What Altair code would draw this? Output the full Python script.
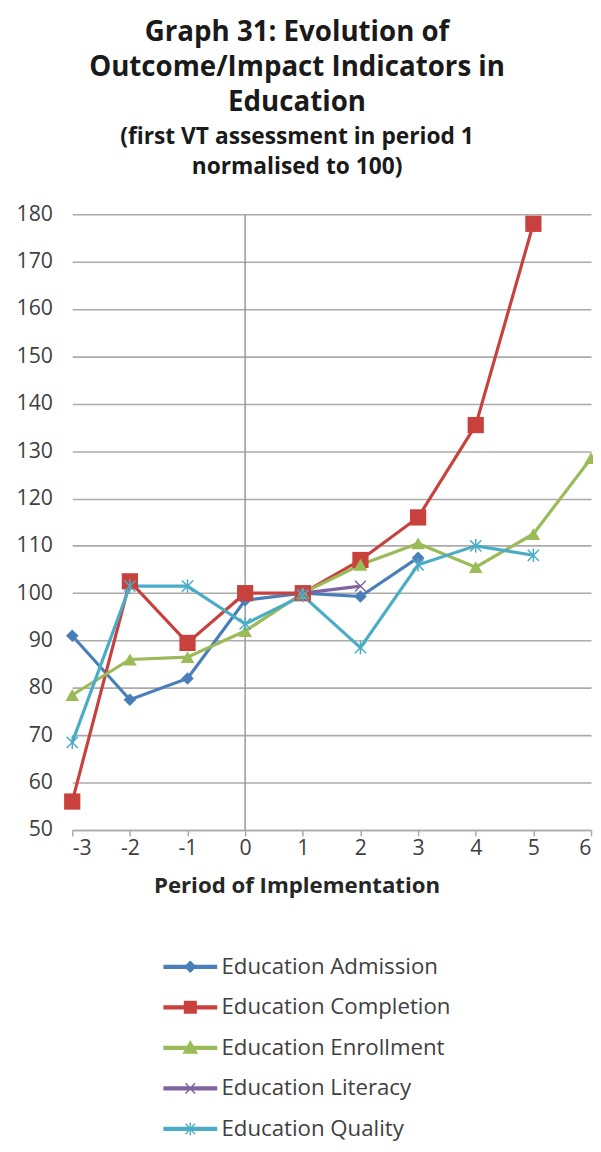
import altair as alt
import pandas as pd

series_names = ["Education Admission", "Education Completion", "Education Enrollment",
                "Education Literacy", "Education Quality"]
colors = ["#4A7EBB", "#C8413D", "#9BBB59", "#8064A2", "#4BACC6"]

admission_x = [-3, -2, -1, 0, 1, 2, 3]
admission_y = [91, 77.5, 82, 98.5, 100, 99.3, 107.5]
completion_x = [-3, -2, -1, 0, 1, 2, 3, 4, 5]
completion_y = [56, 102.5, 89.5, 100, 100, 107, 116, 135.5, 178]
enrollment_x = [-3, -2, -1, 0, 1, 2, 3, 4, 5, 6]
enrollment_y = [78.5, 86, 86.5, 92, 100, 106, 110.5, 105.5, 112.5, 128.5]
literacy_x = [1, 2]
literacy_y = [100, 101.5]
quality_x = [-3, -2, -1, 0, 1, 2, 3, 4, 5]
quality_y = [68.5, 101.5, 101.5, 93.5, 99.5, 88.5, 106, 110, 108]

x_ticks = [-3, -2, -1, 0, 1, 2, 3, 4, 5, 6]
y_ticks = [50, 60, 70, 80, 90, 100, 110, 120, 130, 140, 150, 160, 170, 180]

rows = []
for name, xs, ys in zip(series_names,
                        [admission_x, completion_x, enrollment_x, literacy_x, quality_x],
                        [admission_y, completion_y, enrollment_y, literacy_y, quality_y]):
    for xv, yv in zip(xs, ys):
        rows.append({"series": name, "period": xv, "value": yv})
df = pd.DataFrame(rows)

# marker styles in plot (shape, size, filled)
plot_markers = [
    ("diamond", 160, True),
    ("square", 270, True),
    ("triangle-up", 190, True),
    ("M-1,-1L1,1M-1,1L1,-1", 120, False),
    ("M-1,-1L1,1M-1,1L1,-1M0,-1.2V1.2", 130, False),
]

# legend symbols: line + marker
line_p = "M-1,-0.055H1V0.055H-1Z"
leg_paths = [
    line_p + "M0,-0.2L0.2,0L0,0.2L-0.2,0Z",
    line_p + "M-0.22,-0.22H0.22V0.22H-0.22Z",
    line_p + "M0,-0.24L0.25,0.2H-0.25Z",
    line_p + "M-0.18,-0.2L0.18,0.2M-0.18,0.2L0.18,-0.2",
    line_p + "M-0.18,-0.2L0.18,0.2M-0.18,0.2L0.18,-0.2M0,-0.24V0.24",
]

color_scale = alt.Scale(domain=series_names, range=colors)

x_enc = alt.X("period:Q", scale=alt.Scale(domain=[-3, 6], nice=False),
              axis=alt.Axis(values=x_ticks, labelExpr="toString(datum.value)",
                            title="Period of Implementation",
                            grid=False, tickSize=6, labelPadding=2, titlePadding=16,
                            titleX=227, titleFontSize=22.5))
y_enc = alt.Y("value:Q", scale=alt.Scale(domain=[50, 180], nice=False, zero=False),
              axis=alt.Axis(values=y_ticks, title=None, ticks=False, domain=False,
                            labelPadding=20))

legend = alt.Legend(
    title=None, orient="none", legendX=92, legendY=734, direction="vertical",
    labelFontSize=22.5, labelFont="Open Sans", labelColor="#404040", labelOffset=4,
    labelLimit=500, rowPadding=2, symbolSize=2809, symbolStrokeWidth=1.5, symbolOpacity=1,
)

base = alt.Chart(df)

zero_rule = alt.Chart(pd.DataFrame({"period": [0]})).mark_rule(
    color="#9a9a9a", strokeWidth=1.5).encode(x="period:Q")

lines = base.mark_line(strokeWidth=3.2).encode(
    x=x_enc, y=y_enc,
    color=alt.Color("series:N", scale=color_scale, legend=legend),
    order="period:Q",
)

point_layers = []
for name, (shp, sz, filled) in zip(series_names, plot_markers):
    point_layers.append(
        base.transform_filter(alt.datum.series == name).mark_point(
            shape=shp, size=sz, filled=filled, strokeWidth=1.5, opacity=1
        ).encode(
            x="period:Q", y="value:Q",
            color=alt.Color("series:N", scale=color_scale, legend=legend),
        )
    )

legend_layer = base.transform_filter("datum.period > 1000").mark_point(
    filled=True, strokeWidth=1.5, opacity=1
).encode(
    x="period:Q", y="value:Q",
    color=alt.Color("series:N", scale=color_scale, legend=legend),
    stroke=alt.Stroke("series:N", scale=alt.Scale(domain=series_names, range=colors), legend=legend),
    shape=alt.Shape("series:N", scale=alt.Scale(domain=series_names, range=leg_paths), legend=legend),
)

chart = alt.layer(zero_rule, lines, *point_layers, legend_layer).properties(
    width=525, height=623,
    autosize=alt.AutoSizeParams(type="none"),
    padding={"left": 65, "top": 202, "right": 2, "bottom": 311},
    background="#ffffff",
    title=alt.TitleParams(
        text=["Graph 31: Evolution of", "Outcome/Impact Indicators in", "Education"],
        subtitle=["(first VT assessment in period 1", "normalised to 100)"],
        font="Open Sans", fontSize=28, fontWeight="bold", color="#1a1a1a",
        lineHeight=35, subtitleFont="Open Sans", subtitleFontSize=23,
        subtitleFontWeight="bold", subtitleColor="#1a1a1a", subtitleLineHeight=30,
        subtitlePadding=10, anchor="middle", dx=-35, offset=25,
    ),
).configure_view(stroke=None).configure_axis(
    labelFont="Open Sans", labelFontSize=21.5, labelColor="#404040",
    titleFont="Open Sans", titleFontWeight="bold", titleColor="#262626",
    gridColor="#ababab", gridWidth=1.6, domainColor="#ababab", domainWidth=1.6,
    tickColor="#ababab", tickWidth=1.5,
)

chart.save("out.html", embed_options={"renderer": "svg", "actions": False})
